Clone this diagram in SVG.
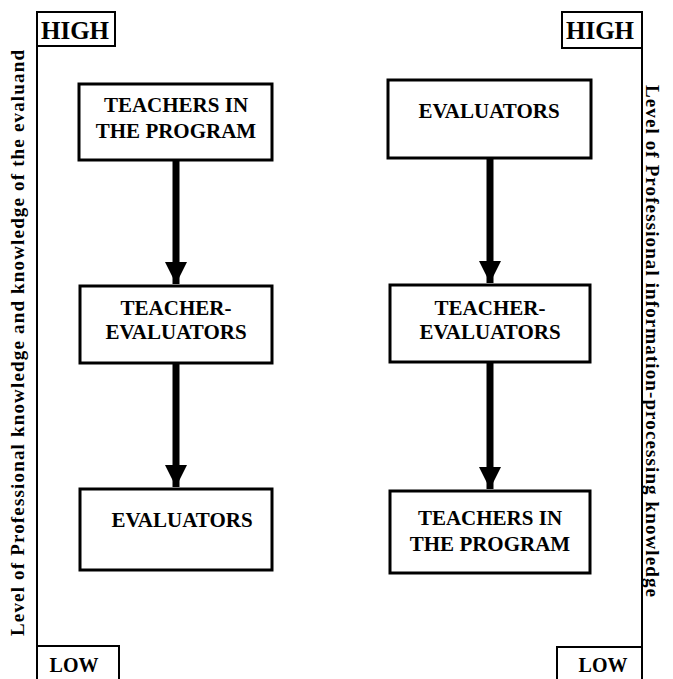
<svg xmlns="http://www.w3.org/2000/svg" width="673" height="679" viewBox="0 0 673 679">
<style>
.box{fill:#fff;stroke:#000;stroke-width:3}
.tag{fill:#fff;stroke:#000;stroke-width:2}
.axis{fill:none;stroke:#000;stroke-width:2}
.t{font-family:"Liberation Serif","Times New Roman","DejaVu Serif",serif;font-weight:bold;font-size:21px;text-anchor:middle;fill:#000}
.th{font-family:"Liberation Serif","Times New Roman","DejaVu Serif",serif;font-weight:bold;font-size:25px;text-anchor:middle;fill:#000}
.tl{font-family:"Liberation Serif","Times New Roman","DejaVu Serif",serif;font-weight:bold;font-size:20px;text-anchor:middle;fill:#000}
.ax{font-family:"Liberation Serif","Times New Roman","DejaVu Serif",serif;font-weight:bold;font-size:19px;text-anchor:middle;fill:#000}
.conn{stroke:#000;stroke-width:7;fill:none}
</style>
<defs>
<marker id="ah" viewBox="0 0 10 10" refX="10" refY="5" markerWidth="3.2" markerHeight="3.4" orient="auto" markerUnits="strokeWidth">
<path d="M0,0 L10,5 L0,10 z" fill="#000"/>
</marker>
</defs>
<rect width="673" height="679" fill="#fff"/>

<g id="axis-left">
<line class="axis" x1="37" y1="46" x2="37" y2="679"/>
<rect class="tag" x="37" y="12" width="78" height="34"/>
<text class="th" x="75" y="39">HIGH</text>
<rect class="tag" x="37" y="646" width="82" height="40"/>
<text class="tl" x="74" y="672">LOW</text>
<text class="ax" transform="translate(24,343) rotate(-90)" textLength="586" lengthAdjust="spacing">Level of Professional knowledge and knowledge of the evaluand</text>
</g>

<g id="axis-right">
<line class="axis" x1="642" y1="12" x2="642" y2="679"/>
<rect class="tag" x="562" y="12" width="80" height="36"/>
<text class="th" x="600" y="39">HIGH</text>
<rect class="tag" x="557" y="647" width="85" height="40"/>
<text class="tl" x="603" y="672">LOW</text>
<text class="ax" transform="translate(646,341) rotate(90)" textLength="512" lengthAdjust="spacing">Level of Professional information-processing knowledge</text>
</g>

<g id="connectors">
<line class="conn" x1="176" y1="160" x2="176" y2="284" marker-end="url(#ah)"/>
<line class="conn" x1="176" y1="363" x2="176" y2="487" marker-end="url(#ah)"/>
<line class="conn" x1="490" y1="158" x2="490" y2="283" marker-end="url(#ah)"/>
<line class="conn" x1="490" y1="362" x2="490" y2="489" marker-end="url(#ah)"/>
</g>

<g id="left-teachers">
<rect class="box" x="79" y="84" width="193" height="76"/>
<text class="t" x="176" y="112">TEACHERS IN</text>
<text class="t" x="176" y="138">THE PROGRAM</text>
</g>
<g id="left-teacher-evaluators">
<rect class="box" x="80" y="286" width="192" height="77"/>
<text class="t" x="176" y="315">TEACHER-</text>
<text class="t" x="176" y="339">EVALUATORS</text>
</g>
<g id="left-evaluators">
<rect class="box" x="80" y="489" width="192" height="81"/>
<text class="t" x="182" y="527">EVALUATORS</text>
</g>

<g id="right-evaluators">
<rect class="box" x="388" y="80" width="203" height="78"/>
<text class="t" x="489" y="118">EVALUATORS</text>
</g>
<g id="right-teacher-evaluators">
<rect class="box" x="390" y="285" width="200" height="77"/>
<text class="t" x="490" y="315">TEACHER-</text>
<text class="t" x="490" y="339">EVALUATORS</text>
</g>
<g id="right-teachers">
<rect class="box" x="390" y="491" width="200" height="82"/>
<text class="t" x="490" y="525">TEACHERS IN</text>
<text class="t" x="490" y="551">THE PROGRAM</text>
</g>
</svg>
